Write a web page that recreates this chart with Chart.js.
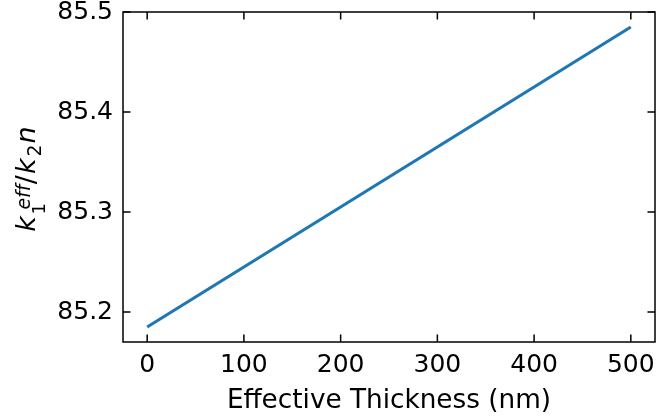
<!DOCTYPE html>
<html>
<head>
<meta charset="utf-8">
<script src="https://cdn.jsdelivr.net/npm/chart.js@4.4.0/dist/chart.umd.min.js"></script>
<style>
    html, body { margin: 0; padding: 0; background: #fff; }
    canvas { display: block; }
</style>
</head>
<body>
<canvas id="chart" width="656" height="417"></canvas>
<script>
// data
var thickness = [0, 100, 200, 300, 400, 500];
var ratio = [85.185, 85.245, 85.305, 85.365, 85.425, 85.485];
var xTicks = [0, 100, 200, 300, 400, 500];
var yTicks = [85.2, 85.3, 85.4, 85.5];
var xLabel = "Effective Thickness (nm)";

(function () {

    var FONT = '"DejaVu Sans"';
    var TICK_SIZE = 25;
    var LABEL_SIZE = 26.3;
    var MATH_SIZE = 27;
    var tickLen = 7.5;

    // k_1^{eff} / k_2 n  -- drawn piece by piece along the rotated baseline
    // (eff split into letters so the canvas does not turn "ff" into a ligature)
    var yLabelParts = [
        { t: "k", italic: true, scale: 1, dy: 0 },
        { t: "1", italic: false, scale: 0.66, dy: 9.5, gap: 1.5, stack: true },
        { t: "e", italic: true, scale: 0.7, dy: -5.5, gap: 5 },
        { t: "f", italic: true, scale: 0.7, dy: -5.5 },
        { t: "f", italic: true, scale: 0.7, dy: -5.5 },
        { t: "/", italic: false, scale: 1, dy: 0, gap: 0.5 },
        { t: "k", italic: true, scale: 1, dy: 0, gap: 1 },
        { t: "2", italic: false, scale: 0.7, dy: 6, gap: 2 },
        { t: "n", italic: true, scale: 1, dy: 0, gap: 1 }
    ];

    function partFont(p) {
        return (p.italic ? "oblique " : "") + (MATH_SIZE * p.scale) + "px " + FONT;
    }

    function drawYLabel(ctx, x, yMid) {
        var total = 0;
        var widths = [];
        var i;
        for (i = 0; i < yLabelParts.length; i++) {
            ctx.font = partFont(yLabelParts[i]);
            widths.push(ctx.measureText(yLabelParts[i].t).width);
        }
        for (i = 0; i < yLabelParts.length; i++) {
            total += (yLabelParts[i].gap || 0);
            if (!yLabelParts[i].stack) {
                total += widths[i];
            }
        }

        ctx.save();
        ctx.translate(x, yMid);
        ctx.rotate(-Math.PI / 2);
        ctx.textAlign = "left";
        ctx.textBaseline = "alphabetic";
        ctx.fillStyle = "#000";
        var pos = -total / 2;
        for (i = 0; i < yLabelParts.length; i++) {
            var q = yLabelParts[i];
            ctx.font = partFont(q);
            pos += (q.gap || 0);
            ctx.fillText(q.t, pos, q.dy);
            if (!q.stack) {
                pos += widths[i];
            }
        }
        ctx.restore();
    }

    var framePlugin = {
        id: "frame",
        afterDraw: function (chart) {
            var ctx = chart.ctx;
            var a = chart.chartArea;
            var xs = chart.scales.x;
            var ys = chart.scales.y;

            ctx.save();
            ctx.strokeStyle = "#000";
            ctx.lineWidth = 1.5;
            ctx.strokeRect(a.left, a.top, a.right - a.left, a.bottom - a.top);

            //  inward ticks on all four sides
            ctx.beginPath();
            xTicks.forEach(function (v) {
                var px = xs.getPixelForValue(v);
                ctx.moveTo(px, a.bottom);
                ctx.lineTo(px, a.bottom - tickLen);
                ctx.moveTo(px, a.top);
                ctx.lineTo(px, a.top + tickLen);
            });
            yTicks.forEach(function (v) {
                var py = ys.getPixelForValue(v);
                ctx.moveTo(a.left, py);
                ctx.lineTo(a.left + tickLen, py);
                ctx.moveTo(a.right, py);
                ctx.lineTo(a.right - tickLen, py);
            });
            ctx.stroke();

            ctx.fillStyle = "#000";
            ctx.font = LABEL_SIZE + "px " + FONT;
            ctx.textAlign = "center";
            ctx.textBaseline = "alphabetic";
            ctx.fillText(xLabel, (a.left + a.right) / 2, 408);

            drawYLabel(ctx, 35, 179);
            ctx.restore();
        }
    };

    var points = thickness.map(function (t, i) {
        return { x: t, y: ratio[i] };
    });

    new Chart(document.getElementById("chart").getContext("2d"), {
        type: "line",
        data: {
            datasets: [
                {
                    data: points,
                    borderColor: "#1f77b4",
                    borderWidth: 3.2,
                    pointRadius: 0,
                    fill: false,
                    tension: 0
                }
            ]
        },
        options: {
            responsive: false,
            animation: false,
            devicePixelRatio: 1,
            layout: { padding: { top: 12, right: 1, left: 0, bottom: 0 } },
            plugins: {
                legend: { display: false },
                tooltip: { enabled: false }
            },
            scales: {
                x: {
                    type: "linear",
                    min: -25,
                    max: 525,
                    grid: { display: false, drawTicks: false },
                    border: { display: false },
                    afterBuildTicks: function (s) {
                        s.ticks = xTicks.map(function (v) { return { value: v }; });
                    },
                    afterFit: function (s) {
                        s.height = 75;
                        s.paddingLeft = 0;
                        s.paddingRight = 0;
                    },
                    ticks: {
                        padding: 8,
                        color: "#000",
                        maxRotation: 0,
                        font: { family: "DejaVu Sans", size: TICK_SIZE },
                        callback: function (v) { return String(v); }
                    }
                },
                y: {
                    min: 85.17,
                    max: 85.5,
                    grid: { display: false, drawTicks: false },
                    border: { display: false },
                    afterBuildTicks: function (s) {
                        s.ticks = yTicks.map(function (v) { return { value: v }; });
                    },
                    afterFit: function (s) {
                        s.width = 123;
                        s.paddingTop = 0;
                        s.paddingBottom = 0;
                    },
                    ticks: {
                        padding: 10,
                        color: "#000",
                        font: { family: "DejaVu Sans", size: TICK_SIZE },
                        callback: function (v) { return Number(v).toFixed(1); }
                    }
                }
            }
        },
        plugins: [framePlugin]
    });

})();
</script>
</body>
</html>
